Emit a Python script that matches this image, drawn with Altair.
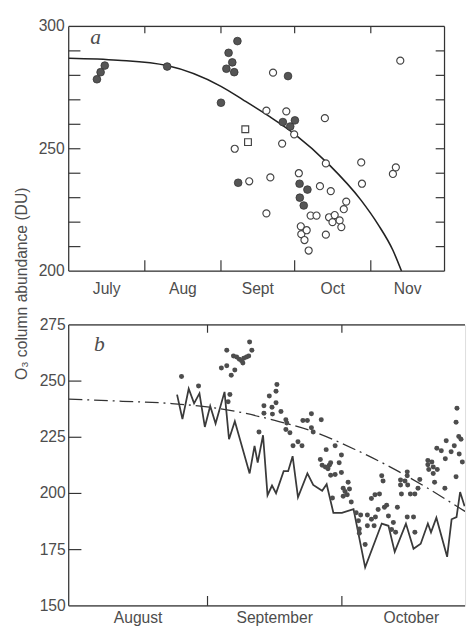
import altair as alt
import pandas as pd

FONT = "Liberation Sans"
TXT = "#4d4d4d"
FR = "#333333"

# ---------------- Panel a (x = days since 1 July) ----------------
a_filled_day = [11.5, 13.0, 14.7, 40.1, 62.0, 64.2, 65.1, 66.6, 67.4, 68.7, 69.0,
                89.3, 87.2, 90.2, 92.1, 94.0, 97.2, 94.1, 95.7]
a_filled_val = [278.4, 281.3, 284.0, 283.6, 268.8, 282.7, 289.2, 285.3, 281.3, 294.0, 236.1,
                279.7, 260.9, 259.1, 261.6, 235.7, 233.3, 230.0, 226.8]
a_open_day = [83.2, 80.5, 88.6, 91.8, 86.9, 67.6, 73.5, 82.1, 80.5, 104.3, 104.7, 93.7,
              102.3, 106.7, 98.5, 100.9, 106.0, 108.3, 107.4, 110.3, 112.0, 113.0, 111.0,
              94.5, 94.7, 96.9, 96.0, 97.7, 104.7, 119.1, 119.4, 132.0, 133.2, 135.0]
a_open_val = [281.1, 265.6, 265.3, 255.9, 252.1, 250.0, 236.7, 238.3, 223.6, 262.5, 244.0, 240.0,
              234.7, 232.7, 222.7, 222.7, 222.0, 222.9, 220.0, 220.7, 225.3, 228.4, 218.0,
              218.3, 215.1, 216.7, 212.7, 208.4, 214.9, 244.4, 235.7, 239.7, 242.4, 286.0]
a_square_day = [71.9, 73.0]
a_square_val = [258.0, 252.7]
a_curve_day = [0, 20, 40, 62, 71, 82, 92, 106, 119, 126, 132, 135.5]
a_curve_val = [287.0, 286.2, 284.0, 275.5, 270.0, 263.0, 256.0, 243.5, 229.0, 219.0, 208.5, 200.0]
a_month_bounds = [31, 62, 92, 123]
a_month_mid = [15.5, 46.5, 77, 107.5, 138]
a_month_names = ["July", "Aug", "Sept", "Oct", "Nov"]
a_y_labels = [200, 250, 300]
a_y_minor = [210, 220, 230, 240, 250, 260, 270, 280, 290]

# ---------------- Panel b (x = days since 1 August) ----------------
b_line_day = [24.2, 25.4, 26.8, 28.0, 29.2, 30.4, 31.6, 32.8, 34.8, 35.8, 37.1, 40.4, 41.5,
              42.2, 43.4, 44.4, 45.4, 46.3, 48.0, 49.0, 50.0, 51.2, 53.3, 54.6, 56.6, 57.6,
              59.1, 61.0, 63.6, 66.2, 69.9, 71.4, 72.8, 75.3, 77.0, 78.6, 80.2, 80.9, 82.1,
              84.5, 85.5, 86.6, 87.4, 88.4]
b_line_val = [244.0, 233.1, 246.6, 240.1, 244.5, 229.6, 238.9, 231.1, 245.2, 224.1, 232.1, 208.9, 221.2,
              213.7, 225.9, 199.2, 203.5, 200.1, 209.9, 209.9, 216.6, 198.3, 208.9, 203.8, 201.2, 204.1,
              191.4, 191.4, 193.0, 167.1, 186.6, 185.6, 174.0, 186.6, 175.4, 177.6, 186.6, 182.7, 189.2,
              171.8, 188.5, 189.5, 200.6, 194.3]
b_trend_day = [0, 12, 23, 36, 46, 54, 64, 73, 80, 88.5]
b_trend_val = [242.0, 241.0, 240.0, 237.0, 232.5, 228.0, 219.5, 210.5, 202.5, 192.0]
b_dot_day = [25.2, 29.0, 34.1, 35.3, 35.3, 36.3, 37.1, 36.8, 37.5, 38.1, 38.6, 39.1, 39.7, 40.2,
             40.9, 40.4, 38.9, 36.0, 35.6, 42.5,
             46.5, 46.3, 44.8, 43.6, 45.4, 46.3, 43.6, 45.5, 47.4, 48.5, 48.7, 48.5, 49.4, 52.3,
             53.3, 54.2, 56.4, 54.2, 54.6, 51.2, 50.1, 52.1, 57.5, 59.5, 60.9, 56.2, 56.6, 57.3,
             58.2, 58.5, 60.4, 58.5, 59.5, 60.9, 57.9, 58.9, 62.4, 61.3, 61.7, 62.7, 61.3, 62.2, 63.1,
             64.2, 65.2, 66.7, 64.7, 64.9, 64.9, 66.7, 67.6, 68.5, 68.2, 66.2, 67.6, 68.4, 69.4,
             69.1, 70.5, 71.0, 71.4, 73.4, 72.5, 72.1, 73.0, 69.9, 70.2, 75.6, 77.0, 77.3, 74.1,
             74.1, 75.1, 75.6, 75.6, 75.7, 74.3, 76.3, 77.3, 78.0, 78.4, 80.2, 80.2, 81.1, 81.4,
             80.4, 82.3, 81.4, 81.7, 84.0, 82.2, 83.2, 84.3, 84.1, 85.4, 86.1, 87.1, 87.6, 87.2,
             87.9, 86.5, 86.5, 86.7]
b_dot_val = [252.0, 247.8, 255.8, 256.8, 263.7, 252.6, 254.9, 261.2, 260.7, 259.7, 259.0, 260.2, 260.7, 261.2,
             263.7, 267.4, 258.0, 244.0, 240.8, 227.3,
             248.5, 245.5, 243.4, 239.0, 238.4, 240.4, 235.7, 235.3, 236.5, 232.8, 231.4, 228.5, 227.0, 232.5,
             232.5, 235.5, 232.8, 229.2, 227.3, 223.0, 221.2, 221.2, 219.5, 221.2, 217.1, 215.1, 212.5, 211.8,
             212.5, 213.7, 213.7, 208.1, 208.4, 209.3, 211.0, 198.0, 205.0, 202.3, 200.9, 202.0, 198.7, 199.4, 196.2,
             191.4, 190.4, 190.4, 187.8, 184.2, 182.3, 185.6, 188.5, 189.5, 185.6, 177.3, 197.7, 199.4, 199.7,
             192.9, 193.9, 194.8, 190.0, 193.9, 187.1, 183.9, 182.7, 207.9, 205.5, 189.5, 189.5, 182.7, 206.0,
             203.8, 205.5, 209.6, 207.9, 203.8, 199.7, 199.7, 199.7, 202.3, 206.2, 214.7, 212.8, 214.0, 211.8,
             210.7, 210.7, 208.9, 205.0, 202.3, 220.1, 219.0, 223.4, 215.4, 218.6, 221.2, 225.3, 224.1, 217.6,
             214.0, 207.4, 231.7, 237.9]
b_month_bounds = [31, 61]
b_month_mid = [15.5, 46, 76.5]
b_month_names = ["August", "September", "October"]
b_y_labels = [150, 175, 200, 225, 250, 275]
b_y_inner = [175, 200, 225, 250]

one = pd.DataFrame({"k": [0]})


def rule(df, **enc):
    return alt.Chart(df).mark_rule(color=FR, strokeWidth=1.2).encode(**enc)


def frame(w, h, sides):
    out = []
    if "top" in sides:
        out.append(rule(one, x=alt.value(0), x2=alt.value(w), y=alt.value(0)))
    if "bottom" in sides:
        out.append(rule(one, x=alt.value(0), x2=alt.value(w), y=alt.value(h)))
    if "left" in sides:
        out.append(rule(one, x=alt.value(0), y=alt.value(0), y2=alt.value(h)))
    if "right" in sides:
        out.append(rule(one, x=alt.value(w), y=alt.value(0), y2=alt.value(h)))
    return out


def xlabels(mids, names, xs, h, pad):
    df = pd.DataFrame({"m": mids, "t": names})
    return alt.Chart(df).mark_text(font=FONT, fontSize=16, color=TXT, align="center",
                                   baseline="top").encode(
        x=alt.X("m:Q", scale=xs, axis=None), y=alt.value(h + pad), text="t:N")


def ylabels(vals, ys, pad):
    df = pd.DataFrame({"v": vals})
    return alt.Chart(df).mark_text(font=FONT, fontSize=16, color=TXT, align="right",
                                   baseline="middle").encode(
        y=alt.Y("v:Q", scale=ys, axis=None), x=alt.value(-pad), text="v:Q")


# ================= Panel a =================
WA, HA = 384, 250
xsA = alt.Scale(domain=[0, 153], nice=False, zero=False)
ysA = alt.Scale(domain=[200, 300], nice=False, zero=False)

a_curve = pd.DataFrame({"day": a_curve_day, "val": a_curve_val})
a_f = pd.DataFrame({"day": a_filled_day, "val": a_filled_val})
a_o = pd.DataFrame({"day": a_open_day, "val": a_open_val})
a_s = pd.DataFrame({"day": a_square_day, "val": a_square_val})
a_b = pd.DataFrame({"b": a_month_bounds})
a_m = pd.DataFrame({"v": a_y_minor})

XA = lambda f: alt.X(f, scale=xsA, axis=None)
YA = lambda f: alt.Y(f, scale=ysA, axis=None)

curveA = alt.Chart(a_curve).mark_line(color="#222", strokeWidth=1.6, interpolate="monotone").encode(
    x=XA("day:Q"), y=YA("val:Q"))
filledA = alt.Chart(a_f).mark_point(shape="circle", filled=True, size=62, fill="#555",
                                    stroke="#333", strokeWidth=0.8, opacity=1).encode(
    x=XA("day:Q"), y=YA("val:Q"))
openA = alt.Chart(a_o).mark_point(shape="circle", size=52, fill="white", fillOpacity=1,
                                  stroke="#444", strokeWidth=1.2, opacity=1).encode(
    x=XA("day:Q"), y=YA("val:Q"))
sqA = alt.Chart(a_s).mark_point(shape="square", size=48, fill="white", fillOpacity=1,
                                stroke="#444", strokeWidth=1.2, opacity=1).encode(
    x=XA("day:Q"), y=YA("val:Q"))
ticksA = [
    rule(a_b, x=XA("b:Q"), y=alt.value(0), y2=alt.value(7)),
    rule(a_b, x=XA("b:Q"), y=alt.value(HA), y2=alt.value(HA - 11)),
    rule(a_m, y=YA("v:Q"), x=alt.value(WA), x2=alt.value(WA - 9)),
    rule(a_m, y=YA("v:Q"), x=alt.value(0), x2=alt.value(12)),
]
labA = alt.Chart(one).mark_text(text="a", font="Liberation Serif", fontStyle="italic",
                                fontSize=22, color=TXT, align="left", baseline="middle").encode(
    x=alt.value(22), y=alt.value(11))
ytitle = alt.Chart(one).mark_text(text="O₃ column abundance (DU)", angle=270, font=FONT,
                                  fontSize=16, color=TXT, align="center", baseline="middle").encode(
    x=alt.value(-48), y=alt.value(263))

panelA = alt.layer(curveA, filledA, openA, sqA, *ticksA, *frame(WA, HA, ["top", "bottom", "left", "right"]),
                   xlabels(a_month_mid, a_month_names, xsA, HA, 10),
                   ylabels(a_y_labels, ysA, 4),
                   labA, ytitle).properties(width=WA, height=HA)

# ================= Panel b =================
WB, HB = 405, 287
xsB = alt.Scale(domain=[0, 88.5], nice=False, zero=False)
ysB = alt.Scale(domain=[150, 275], nice=False, zero=False)
XB = lambda f: alt.X(f, scale=xsB, axis=None)
YB = lambda f: alt.Y(f, scale=ysB, axis=None)

b_tr = pd.DataFrame({"day": b_trend_day, "val": b_trend_val})
b_ln = pd.DataFrame({"day": b_line_day, "val": b_line_val})
b_dt = pd.DataFrame({"day": b_dot_day, "val": b_dot_val})
b_b = pd.DataFrame({"b": b_month_bounds})
b_yl = pd.DataFrame({"v": b_y_inner})

trendB = alt.Chart(b_tr).mark_line(color="#333", strokeWidth=1.3, strokeDash=[14, 5, 2, 5],
                                   interpolate="monotone", clip=True).encode(
    x=XB("day:Q"), y=YB("val:Q"))
lineB = alt.Chart(b_ln).mark_line(color="#3a3a3a", strokeWidth=1.8, clip=True).encode(
    x=XB("day:Q"), y=YB("val:Q"))
dotsB = alt.Chart(b_dt).mark_circle(size=26, color="#4d4d4d", opacity=1, clip=True).encode(
    x=XB("day:Q"), y=YB("val:Q"))
ticksB = [
    rule(b_b, x=XB("b:Q"), y=alt.value(0), y2=alt.value(8)),
    rule(b_b, x=XB("b:Q"), y=alt.value(HB), y2=alt.value(HB - 10)),
    rule(b_yl, y=YB("v:Q"), x=alt.value(0), x2=alt.value(13)),
]
labB = alt.Chart(one).mark_text(text="b", font="Liberation Serif", fontStyle="italic",
                                fontSize=22, color=TXT, align="left", baseline="middle").encode(
    x=alt.value(26), y=alt.value(20))

panelB = alt.layer(trendB, lineB, dotsB, *ticksB, *frame(WB, HB, ["top", "bottom", "left"]),
                   xlabels(b_month_mid, b_month_names, xsB, HB, 5),
                   ylabels(b_y_labels, ysB, 3),
                   labB).properties(width=WB, height=HB)

chart = alt.vconcat(panelA, panelB, spacing=55, bounds="flush").properties(
    padding={"left": 5, "top": 3, "right": 0, "bottom": 0}
).configure_view(strokeWidth=0).configure(background="white")

chart.save("out.html", embed_options={"renderer": "svg", "actions": False})
